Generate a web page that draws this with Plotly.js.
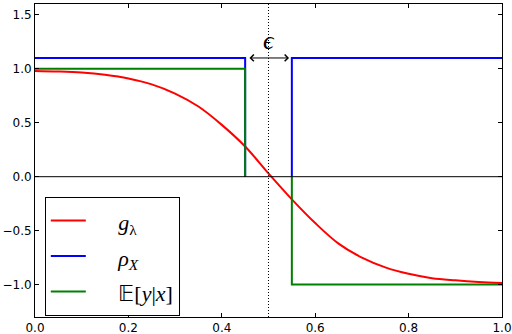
<!DOCTYPE html>
<html>
<head>
<meta charset="utf-8">
<script src="https://cdn.plot.ly/plotly-3.0.1.min.js"></script>
<style>
  html, body { margin: 0; padding: 0; background: #fff; }
  #plot { width: 512px; height: 334px; }
</style>
</head>
<body>
<div id="plot"></div>
<script>
// g_lambda
const gX = [0, 0.05, 0.1, 0.15, 0.2, 0.25, 0.3, 0.35, 0.4, 0.45, 0.5,
            0.55, 0.6, 0.65, 0.7, 0.75, 0.8, 0.85, 0.9, 0.95, 1.0]
const gY = [0.98, 0.975, 0.965, 0.944, 0.91, 0.855, 0.77, 0.65, 0.48, 0.28, 0.03,
            -0.21, -0.43, -0.62, -0.75, -0.84, -0.90, -0.94, -0.96, -0.975, -0.985]

// rho_X and E[y|x] (step lines, the part on y=0 lies under the black axis line)
const stepX   = [0, 0.45, 0.45, null, 0.55, 0.55, 1.0]
const rhoY    = [1.1, 1.1, 0, null, 0, 1.1, 1.1]
const condY   = [1, 1, 0, null, 0, -1, -1]

// gap edges and middle
const gapEdges = [0.45, 0.55]
const gapMid   = 0.5

const names = ['<i>g</i><sub>λ</sub>', '<i>ρ</i><sub><i>X</i></sub>', '𝔼[<i>y</i>|<i>x</i>]']
const colors = ['rgb(255,0,0)', 'rgb(0,0,255)', 'rgb(0,128,0)']

// legend label: smaller text inside a taller legend row, pushed right a little
const pad = '\u00a0\u00a0\u00a0\u00a0\u00a0'
const lbl = s => '<span style="font-size:22px">' + pad + s + '</span>'

const red   = {x: gX, y: gY, name: lbl(names[0]), type: 'scatter', mode: 'lines', line: {color: colors[0], width: 2, shape: 'spline'}}
const blue  = {x: stepX, y: rhoY, name: lbl(names[1]), type: 'scatter', mode: 'lines', line: {color: colors[1], width: 2}}
const green = {x: stepX, y: condY, name: lbl(names[2]), type: 'scatter', mode: 'lines', line: {color: colors[2], width: 2}}

const axisStyle = {
	showline: true, linecolor: '#000', linewidth: 1, mirror: 'allticks',
	ticks: 'inside', ticklen: 4, tickcolor: '#000',
	showgrid: false, zeroline: false,
	tickfont: {family: 'DejaVu Sans', size: 12, color: '#000'}
}

const layout = {
	width: 512, height: 334,
	margin: {l: 35, r: 10, t: 4, b: 17},
	paper_bgcolor: '#fff', plot_bgcolor: '#fff',
	xaxis: Object.assign({}, axisStyle, {range: [0, 1], dtick: 0.2, tickformat: '.1f'}),
	yaxis: Object.assign({}, axisStyle, {range: [-1.3, 1.6], dtick: 0.5, tickformat: '.1f'}),
	showlegend: true,
	legend: {
		x: 0.021, y: 0.384, xanchor: 'left', yanchor: 'top',
		bgcolor: '#fff', bordercolor: '#000', borderwidth: 1,
		itemwidth: 35,
		font: {family: 'Liberation Serif', size: 25, color: '#000'}
	},
	shapes: [
		{type: 'line', xref: 'paper', x0: 0, x1: 1, yref: 'y', y0: 0, y1: 0, line: {color: '#000', width: 1}, layer: 'above'},
		{type: 'line', xref: 'x', x0: gapMid, x1: gapMid, yref: 'paper', y0: 0, y1: 1, line: {color: '#000', width: 1, dash: '1px,2px'}, layer: 'above'}
	],
	annotations: [
		{x: gapEdges[1] - 0.006, y: rhoY[0], ax: gapEdges[0] + 0.006, ay: rhoY[0], xref: 'x', yref: 'y', axref: 'x', ayref: 'y',
		 text: '', showarrow: true, arrowhead: 4, startarrowhead: 4, arrowside: 'end+start', arrowsize: 1.3, arrowwidth: 1, arrowcolor: '#000'},
		{x: gapMid, y: 1.26, xref: 'x', yref: 'y', text: '<i>ϵ</i>', showarrow: false,
		 font: {family: 'Liberation Serif', size: 26, color: '#000'}}
	]
}

const config = {displayModeBar: false, staticPlot: true}

Plotly.newPlot('plot', [red, blue, green], layout, config)
</script>
</body>
</html>
